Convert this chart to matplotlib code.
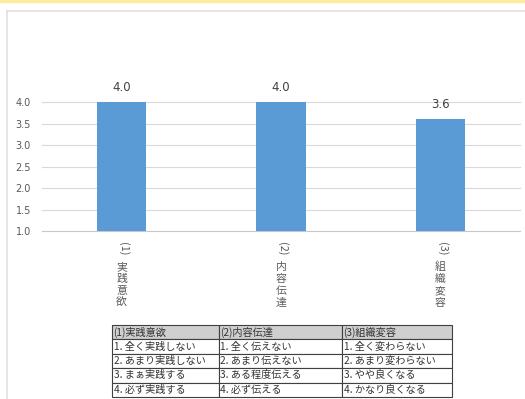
import matplotlib.pyplot as plt
from matplotlib.patches import Rectangle
from matplotlib.lines import Line2D

plt.rcParams["font.family"] = ["Noto Sans CJK JP", "DejaVu Sans"]

categories = ["(1)実践意欲", "(2)内容伝達", "(3)組織変容"]
values = [4.0, 4.0, 3.6]
yticks = [1.0, 1.5, 2.0, 2.5, 3.0, 3.5, 4.0]

table_rows = [
    ["(1)実践意欲", "(2)内容伝達", "(3)組織変容"],
    ["1. 全く実践しない", "1. 全く伝えない", "1. 全く変わらない"],
    ["2. あまり実践しない", "2. あまり伝えない", "2. あまり変わらない"],
    ["3. まぁ実践する", "3. ある程度伝える", "3. やや良くなる"],
    ["4. 必ず実践する", "4. 必ず伝える", "4. かなり良くなる"],
]
col_px = [107, 123, 110]

W, H = 525, 399
BAR = "#5b9bd5"
GRID = "#d9d9d9"
TXT = "#595959"

fig = plt.figure(figsize=(W / 100, H / 100), dpi=100)

# frame: yellow strip on top, light chart border
fig.add_artist(Line2D([0, 1], [1 - 1 / H, 1 - 1 / H], color="#fbeea0", lw=2.5))
fig.add_artist(Line2D([7 / W, 7 / W], [0, 1 - 11 / H], color="#e0e0e0", lw=1.2))
fig.add_artist(Line2D([7 / W, 1], [1 - 11 / H, 1 - 11 / H], color="#e0e0e0", lw=1.2))

ax = fig.add_axes([42 / W, 1 - 231 / H, 478 / W, 129 / H])
x = range(len(values))
ax.bar(x, values, width=0.31, bottom=0, color=BAR, zorder=3, clip_on=True)
ax.set_xlim(-0.5, 2.5)
ax.set_ylim(1.0, 4.0)
ax.set_yticks(yticks)
ax.set_yticklabels([f"{t:.1f}" for t in yticks], fontsize=7, color=TXT,
                   family=["DejaVu Sans"])
ax.tick_params(axis="y", length=0, pad=8)
ax.set_xticks([])
for t in yticks:
    ax.axhline(t, color=GRID if t > 1.0 else "#c8c8c8", lw=0.8, zorder=1, clip_on=False)
for s in ax.spines.values():
    s.set_visible(False)

for xi, v in zip(x, values):
    ax.annotate(f"{v:.1f}", (xi, v), xytext=(0, 6), textcoords="offset points",
                ha="center", va="bottom", fontsize=8.5, color="#404040",
                family=["DejaVu Sans"], annotation_clip=False)

# vertical (tategaki) category labels: "(n)" turned sideways, then one kanji per line
for xi, c in zip(x, categories):
    head, body = c[:3], c[3:]
    ax.annotate(head, (xi, 1.0), xytext=(1.2, -12.5), textcoords="offset points",
                ha="center", va="center", rotation=270, fontsize=7.8, color=TXT,
                annotation_clip=False)
    for i, ch in enumerate(body):
        ax.annotate(ch, (xi, 1.0), xytext=(0, -26 - 8.6 * i), textcoords="offset points",
                    ha="center", va="center", fontsize=7.8, color=TXT,
                    annotation_clip=False)

# legend table under the chart
tx0, ty0, ty1 = 112, 325, 397
rh = (ty1 - ty0) / len(table_rows)
tax = fig.add_axes([0, 0, 1, 1])
tax.set_xlim(0, W)
tax.set_ylim(H, 0)
tax.axis("off")
for r, row in enumerate(table_rows):
    cx = tx0
    for c, txt in enumerate(row):
        y = ty0 + r * rh
        tax.add_patch(Rectangle((cx, y), col_px[c], rh,
                                facecolor="#cfcfcf" if r == 0 else "white",
                                edgecolor="#404040", lw=0.8))
        tax.text(cx + 1.5, y + rh / 2, txt, ha="left", va="center",
                 fontsize=7.3, color="#333333")
        cx += col_px[c]

fig.savefig("out.png", dpi=100)
